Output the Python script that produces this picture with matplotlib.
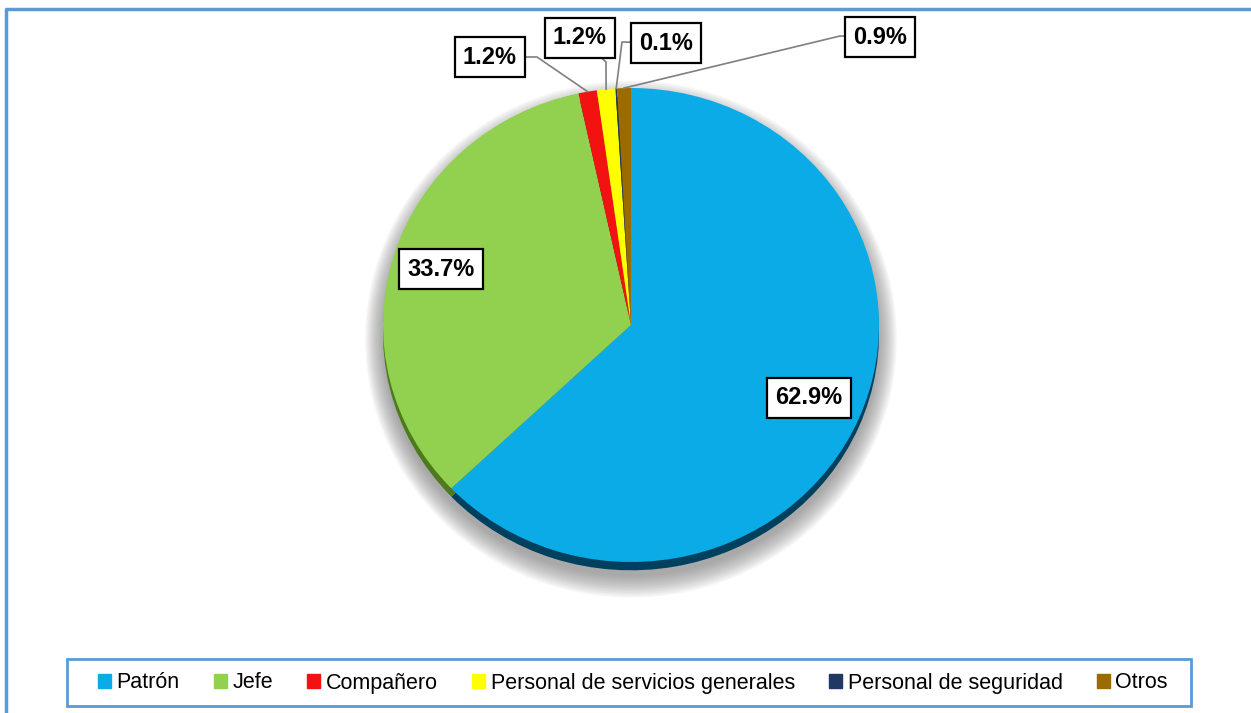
import numpy as np
import matplotlib.pyplot as plt
from matplotlib.patches import Rectangle, Ellipse, Patch
from matplotlib.lines import Line2D

categorias = ["Patrón", "Jefe", "Compañero", "Personal de servicios generales",
              "Personal de seguridad", "Otros"]
porcentajes = [62.9, 33.7, 1.2, 1.2, 0.1, 0.9]
etiquetas = ["62.9%", "33.7%", "1.2%", "1.2%", "0.1%", "0.9%"]

colores = ["#0AABE6", "#92D050", "#F21212", "#FFFF00", "#1F3864", "#9C6B00"]
colores_borde = ["#00405F", "#4E7A1E", "#7A0000", "#8A8A00", "#0E1A33", "#4F3600"]

W, H = 1251, 713
cx, cy = 631, 325      # pie centre in pixels
rx, ry = 248, 237      # horizontal / vertical radius in pixels

fig = plt.figure(figsize=(W / 100, H / 100), dpi=100)
ax = fig.add_axes([0, 0, 1, 1])
ax.axis("off")

# soft shadow under the pie
for s in np.linspace(0.09, 0.0, 14):
    ax.add_patch(Ellipse((0, -0.06), 2 * (1 + s * 0.8), 2 * (1 + s),
                         color="#707070", alpha=0.06, lw=0, zorder=1))

# darker bottom edge (3D look)
ax.pie(porcentajes, colors=colores_borde, startangle=90, counterclock=False,
       center=(0, -0.035), radius=1, wedgeprops=dict(lw=0, zorder=2))
wedges, _ = ax.pie(porcentajes, colors=colores, startangle=90, counterclock=False,
                   center=(0, 0), radius=1, wedgeprops=dict(lw=0, zorder=3))
ax.set_xlim(-cx / rx, (W - cx) / rx)
ax.set_ylim(-(H - cy) / ry, cy / ry)
ax.set_aspect("auto")

fuente = ["Liberation Sans", "DejaVu Sans"]
caja = dict(boxstyle="square,pad=0.35", fc="white", ec="black", lw=1.6)

# labels inside the two big slices
for i, d in [(0, 0.78), (1, 0.80)]:
    w = wedges[i]
    ang = np.deg2rad((w.theta1 + w.theta2) / 2)
    ax.text(d * np.cos(ang), d * np.sin(ang), etiquetas[i], ha="center", va="center",
            fontsize=17, fontweight="bold", family=fuente, bbox=caja, zorder=6)

# small slices: label boxes with leader lines (box centre, elbow point)
pos_etiqueta = {2: ((490, 57), (537, 57)),
                3: ((580, 38), (606, 62)),
                4: ((666, 43), (622, 42)),
                5: ((880, 37), (840, 36))}
for i, ((bx, by), (ex, ey)) in pos_etiqueta.items():
    w = wedges[i]
    ang = np.deg2rad((w.theta1 + w.theta2) / 2)
    x0, y0 = np.cos(ang), np.sin(ang)
    tx, ty = (bx - cx) / rx, (cy - by) / ry
    kx, ky = (ex - cx) / rx, (cy - ey) / ry
    ax.plot([x0, kx, tx], [y0, ky, ty], color="#7F7F7F", lw=1.2, zorder=4)
    ax.text(tx, ty, etiquetas[i], ha="center", va="center", fontsize=17,
            fontweight="bold", family=fuente, bbox=caja, zorder=6)

# outer chart border (left and top only visible)
fig.add_artist(Line2D([6 / W, 6 / W, 1], [0, 1 - 8.5 / H, 1 - 8.5 / H],
                      transform=fig.transFigure, color="#5B9BD5", lw=2.5))

# legend box
fig.add_artist(Rectangle((67 / W, 1 - 706 / H), (1191 - 67) / W, (706 - 659) / H,
                         transform=fig.transFigure, fill=False, ec="#5B9BD5", lw=2))
handles = [Patch(color=c, label=l) for c, l in zip(colores, categorias)]
fig.legend(handles=handles, loc="center", bbox_to_anchor=(633 / W, 1 - 683 / H),
           ncol=6, frameon=False, prop=dict(family=fuente, size=15.5),
           handlelength=0.6, handleheight=0.6, handletextpad=0.25, columnspacing=1.6)

fig.savefig("out.png", dpi=100)
